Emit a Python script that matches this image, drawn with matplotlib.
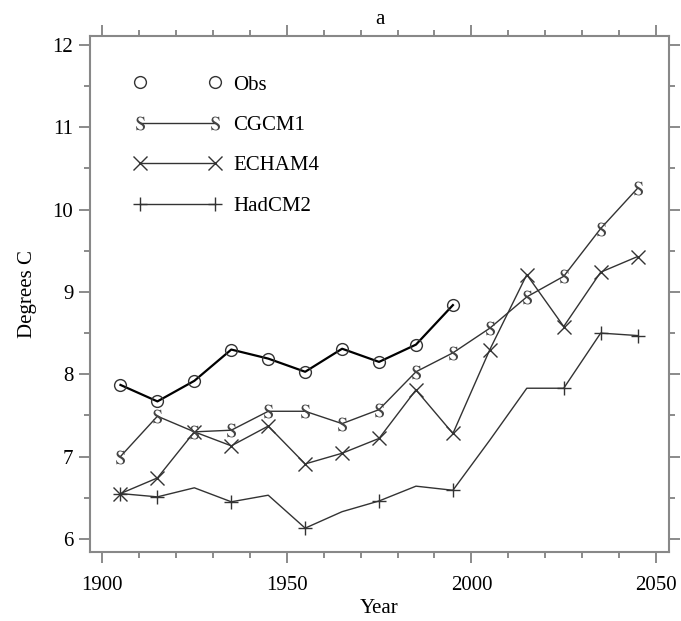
import matplotlib
matplotlib.use("Agg")
import matplotlib.pyplot as plt
from matplotlib.lines import Line2D
from matplotlib.ticker import MultipleLocator

plt.rcParams['font.family'] = ['Liberation Serif', 'DejaVu Serif']
plt.rcParams['mathtext.fontset'] = 'stix'

years = [1905, 1915, 1925, 1935, 1945, 1955, 1965, 1975, 1985, 1995,
         2005, 2015, 2025, 2035, 2045]
obs_years = years[:10]
obs = [7.87, 7.67, 7.92, 8.30, 8.19, 8.03, 8.31, 8.15, 8.36, 8.84]
cgcm1 = [7.00, 7.49, 7.30, 7.32, 7.55, 7.55, 7.40, 7.57, 8.03, 8.26,
         8.56, 8.94, 9.19, 9.77, 10.26]
echam4 = [6.55, 6.74, 7.30, 7.13, 7.37, 6.91, 7.04, 7.22, 7.81, 7.28,
          8.30, 9.21, 8.58, 9.24, 9.43]
hadcm2 = [6.55, 6.51, 6.62, 6.45, 6.53, 6.13, 6.33, 6.46, 6.64, 6.59,
          7.20, 7.83, 7.83, 8.50, 8.47]
labels = ['Obs', 'CGCM1', 'ECHAM4', 'HadCM2']

fig = plt.figure(figsize=(6.81, 6.21), dpi=100)
ax = fig.add_axes([90/681, 1-552/621, (669-90)/681, (552-36)/621])

lc = '#333333'
s_marker = r'$\mathrm{S}$'
ax.plot(years, hadcm2, color=lc, lw=1.0, marker='+', ms=10, mew=1.0,
        markevery=[0, 1, 3, 5, 7, 9, 12, 13, 14])
ax.plot(years, echam4, color=lc, lw=1.0, marker='x', ms=10, mew=1.0)
ax.plot(years, cgcm1, color=lc, lw=1.0, marker=s_marker, ms=10, mew=0,
        mfc='#444444')
ax.plot(obs_years, obs, color='black', lw=1.6, marker='o', ms=8.5,
        mfc='none', mec='#333333', mew=1.0)

ax.set_xlim(1896.75, 2053.5)
ax.set_ylim(5.84, 12.11)
ax.xaxis.set_major_locator(MultipleLocator(50))
ax.xaxis.set_minor_locator(MultipleLocator(10))
ax.yaxis.set_major_locator(MultipleLocator(1))
ax.yaxis.set_minor_locator(MultipleLocator(0.5))
ax.tick_params(which='both', direction='out', top=True, right=True,
               color='#777777', labelsize=15, width=1.2)
ax.tick_params(which='major', length=8, pad=4)
ax.tick_params(which='minor', length=4)
ax.tick_params(axis='x', which='major', pad=9)
for s in ax.spines.values():
    s.set_color('#888888')
    s.set_linewidth(1.5)

ax.set_xlabel('Year', fontsize=15, labelpad=3)
ax.set_ylabel('Degrees C', fontsize=15, labelpad=11)
ax.set_title('a', fontsize=15, pad=9)

handles = [
    Line2D([], [], ls='none', marker='o', ms=8.5, mfc='none', mec='#333333', mew=1.0),
    Line2D([], [], color=lc, lw=1.0, marker=s_marker, ms=10, mew=0, mfc='#444444'),
    Line2D([], [], color=lc, lw=1.0, marker='x', ms=10, mew=1.0),
    Line2D([], [], color=lc, lw=1.0, marker='+', ms=10, mew=1.0),
]
ax.legend(handles, labels, numpoints=2, loc='upper left',
          bbox_to_anchor=((134-90)/579, 1-(75-36)/516), frameon=False,
          fontsize=15, handlelength=4.2, handletextpad=0.55,
          labelspacing=1.0, borderpad=0, borderaxespad=0)

fig.savefig('out.png', dpi=100)
